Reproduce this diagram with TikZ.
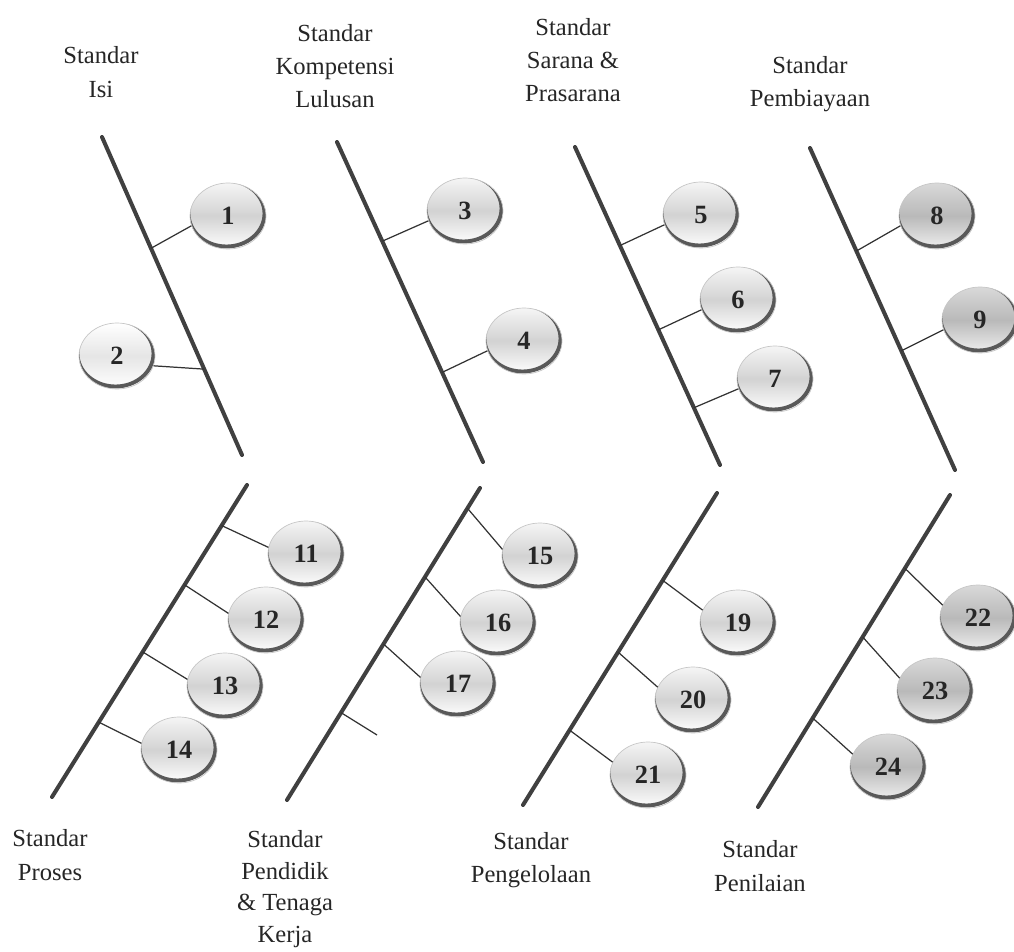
\documentclass[tikz,border=0pt]{standalone}
\usepackage{fontspec}
\setmainfont{Liberation Serif}
\usetikzlibrary{shapes.geometric}

\begin{document}
\begin{tikzpicture}[x=0.02cm,y=-0.02cm,
    bone/.style={line width=2.3pt,black!75,line cap=round},
    twig/.style={line width=0.7pt,black!80},
    title/.style={align=center,text=black!85,font=\fontsize{14}{19}\selectfont},
    ball/.style={ellipse,minimum width=1.52cm,minimum height=1.32cm,inner sep=0pt,draw=gray!45,
      top color=gray!8,bottom color=white,middle color=gray!35,
      font=\fontsize{15}{15}\selectfont\bfseries,text=black!85,
      path picture={\draw[line width=2.2pt,black!65] (path picture bounding box.center) ++(-0.03cm,0.05cm) ellipse [x radius=0.76cm,y radius=0.66cm];}},
    darkball/.style={ball,top color=gray!30,bottom color=gray!12,middle color=gray!55}]

\useasboundingbox (0,0) rectangle (1014,952);

\node[title] (tIsi) at (101,72) {Standar\\Isi};
\node[title] (tKompetensi) at (335,66) {Standar\\Kompetensi\\Lulusan};
\node[title] (tSarana) at (573,60) {Standar\\Sarana \&\\Prasarana};
\node[title] (tPembiayaan) at (810,84) {Standar\\Pembiayaan};
\node[title] (tProses) at (50,855) {Standar\\Proses};
\node[title,font=\fontsize{14}{18}\selectfont] (tPendidik) at (285,889) {Standar\\Pendidik\\\& Tenaga\\Kerja};
\node[title] (tPengelolaan) at (531,860) {Standar\\Pengelolaan};
\node[title] (tPenilaian) at (760,866) {Standar\\Penilaian};

\draw[bone] (102,137) coordinate (isiA) -- (242,455) coordinate (isiB)
  coordinate[pos=0.35] (b1) coordinate[pos=0.73] (b2);
\draw[bone] (337,142) coordinate (komA) -- (483,462) coordinate (komB)
  coordinate[pos=0.31] (b3) coordinate[pos=0.72] (b4);
\draw[bone] (575,147) coordinate (sarA) -- (720,465) coordinate (sarB)
  coordinate[pos=0.31] (b5) coordinate[pos=0.575] (b6) coordinate[pos=0.82] (b7);
\draw[bone] (810,148) coordinate (biaA) -- (955,470) coordinate (biaB)
  coordinate[pos=0.32] (b8) coordinate[pos=0.63] (b9);
\draw[bone] (247,485) coordinate (proA) -- (52,797) coordinate (proB)
  coordinate[pos=0.13] (b11) coordinate[pos=0.32] (b12) coordinate[pos=0.535] (b13) coordinate[pos=0.76] (b14);
\draw[bone] (480,488) coordinate (ptkA) -- (287,800) coordinate (ptkB)
  coordinate[pos=0.065] (b15) coordinate[pos=0.285] (b16) coordinate[pos=0.50] (b17) coordinate[pos=0.72] (b18);
\draw[bone] (717,493) coordinate (pglA) -- (523,805) coordinate (pglB)
  coordinate[pos=0.28] (b19) coordinate[pos=0.51] (b20) coordinate[pos=0.76] (b21);
\draw[bone] (950,495) coordinate (pnlA) -- (758,807) coordinate (pnlB)
  coordinate[pos=0.235] (b22) coordinate[pos=0.455] (b23) coordinate[pos=0.715] (b24);

\node[ball] (c1) at (228,216) {1};
\node[ball,top color=white,bottom color=white,middle color=gray!20] (c2) at (117,356) {2};
\node[ball] (c3) at (465,211) {3};
\node[ball] (c4) at (524,341) {4};
\node[ball] (c5) at (701,215) {5};
\node[ball] (c6) at (738,300) {6};
\node[ball] (c7) at (775,379) {7};
\node[darkball] (c8) at (937,216) {8};
\node[darkball] (c9) at (980,320) {9};
\node[ball] (c11) at (306,554) {11};
\node[ball] (c12) at (266,620) {12};
\node[ball] (c13) at (225,686) {13};
\node[ball] (c14) at (179,750) {14};
\node[ball] (c15) at (540,556) {15};
\node[ball] (c16) at (498,623) {16};
\node[ball] (c17) at (458,684) {17};
\node[ball] (c19) at (738,623) {19};
\node[ball] (c20) at (693,700) {20};
\node[ball] (c21) at (648,775) {21};
\node[darkball] (c22) at (978,618) {22};
\node[darkball] (c23) at (935,691) {23};
\node[darkball] (c24) at (888,767) {24};
\coordinate (e18) at (377,735);

\draw[twig] (b1) -- (c1.195);
\draw[twig] (b2) -- (c2.345);
\draw[twig] (b3) -- (c3.195);
\draw[twig] (b4) -- (c4.195);
\draw[twig] (b5) -- (c5.195);
\draw[twig] (b6) -- (c6.195);
\draw[twig] (b7) -- (c7.195);
\draw[twig] (b8) -- (c8.195);
\draw[twig] (b9) -- (c9.195);
\draw[twig] (b11) -- (c11.170);
\draw[twig] (b12) -- (c12.170);
\draw[twig] (b13) -- (c13.170);
\draw[twig] (b14) -- (c14.170);
\draw[twig] (b15) -- (c15.170);
\draw[twig] (b16) -- (c16.170);
\draw[twig] (b17) -- (c17.170);
\draw[twig] (b18) -- (e18);
\draw[twig] (b19) -- (c19.160);
\draw[twig] (b20) -- (c20.160);
\draw[twig] (b21) -- (c21.160);
\draw[twig] (b22) -- (c22.160);
\draw[twig] (b23) -- (c23.160);
\draw[twig] (b24) -- (c24.160);
\end{tikzpicture}
\end{document}
